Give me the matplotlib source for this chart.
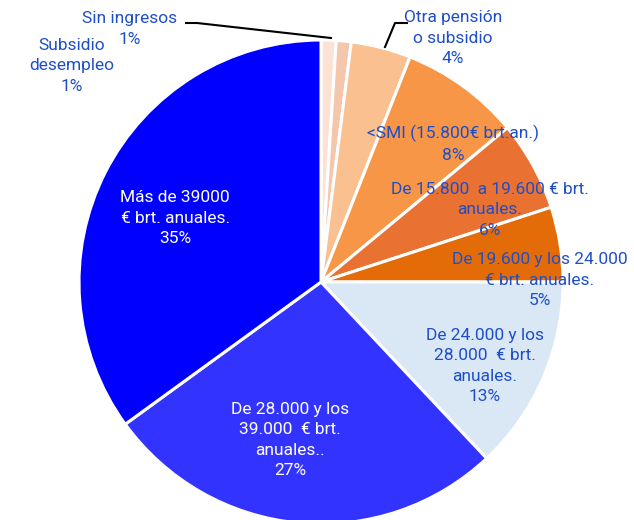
import matplotlib.pyplot as plt

# Data (clockwise from 12 o'clock)
labels = ['Sin ingresos', 'Subsidio\ndesempleo', 'Otra pensión\no subsidio',
          '<SMI (15.800€ brt.an.)', 'De 15.800  a 19.600 € brt.\nanuales.',
          'De 19.600 y los 24.000\n€ brt. anuales.', 'De 24.000 y los\n28.000  € brt.\nanuales.',
          'De 28.000 y los\n39.000  € brt.\nanuales..', 'Más de 39000\n€ brt. anuales.']
values = [1, 1, 4, 8, 6, 5, 13, 27, 35]
colors = ['#FBE2D5', '#F4C7AD', '#FAC090', '#F79646', '#E97132',
          '#E36C09', '#DAE7F5', '#3333FF', '#0000FF']

# label positions (data coords, pie radius = 1)
label_pos = [(-0.79, 1.045), (-1.03, 0.893), (0.545, 1.008), (0.545, 0.570),
             (0.698, 0.298), (0.905, 0.008), (0.678, -0.347), (-0.128, -0.653),
             (-0.603, 0.264)]
text_colors = ['#1F4FC8'] * 7 + ['white', 'white']

plt.rcParams['font.family'] = ['Roboto', 'DejaVu Sans']

fig = plt.figure(figsize=(6.34, 5.2), dpi=100)
ax = fig.add_axes([79 / 634, -4 / 520, 484 / 634, 484 / 520])
ax.pie(values, colors=colors, startangle=90, counterclock=False, radius=1,
       wedgeprops=dict(edgecolor='white', linewidth=2.2))
ax.set_xlim(-1, 1)
ax.set_ylim(-1, 1)
ax.set_aspect('equal')
ax.axis('off')

for lab, v, (x, y), c in zip(labels, values, label_pos, text_colors):
    ax.text(x, y, f'{lab}\n{v}%', ha='center', va='center', fontsize=12.5,
            color=c, linespacing=1.45, clip_on=False)

# leader lines
def px(p):
    return ((p[0] - 321) / 242, (282 - p[1]) / 242)

pts = [px(p) for p in [(186, 23), (197, 23), (331, 38)]]
ax.plot([p[0] for p in pts], [p[1] for p in pts], color='black', lw=1.5, clip_on=False)
pts = [px(p) for p in [(407, 23), (395, 23), (385, 47)]]
ax.plot([p[0] for p in pts], [p[1] for p in pts], color='black', lw=1.5, clip_on=False)

fig.savefig('out.png', dpi=100)
